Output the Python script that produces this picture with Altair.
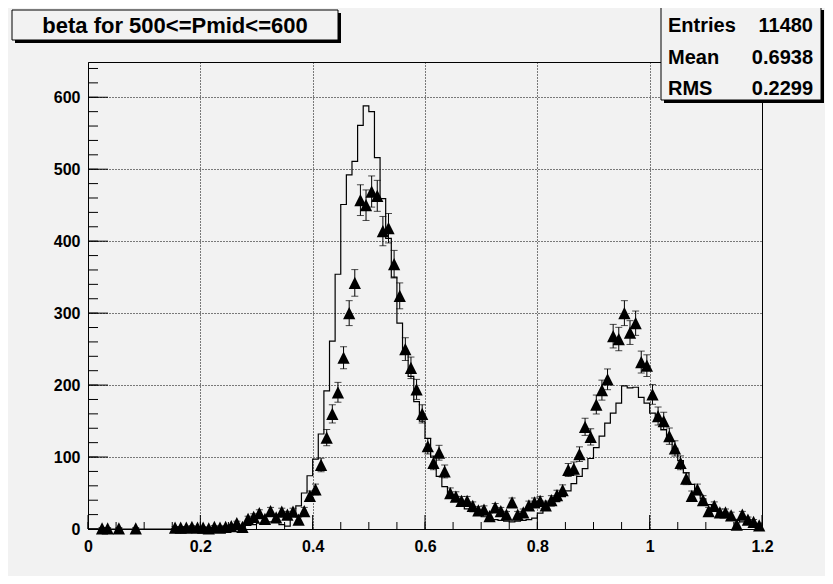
import altair as alt
import pandas as pd

# ---------------- data ----------------
x_min, x_max = 0.0, 1.2
y_max = 649
bin_width = 0.01

# histogram (step line), one value per 0.01 bin from 0.00 to 1.19
hist_counts = [
    0, 0, 0, 0, 0, 0, 0, 0, 0, 0,
    0, 0, 0, 0, 0, 1, 1, 2, 1, 2,
    2, 1, 2, 2, 3, 3, 4, 3, 5, 6,
    8, 9, 10, 10, 6, 4, 22, 32, 50, 74,
    97, 132, 192, 261, 354, 451, 492, 511, 561, 588,
    580, 516, 459, 404, 350, 286, 245, 212, 177, 150,
    126, 100, 73, 59, 48, 40, 34, 28, 24, 20,
    17, 15, 13, 12, 11, 10, 11, 12, 13, 15,
    22, 26, 32, 38, 45, 53, 63, 73, 84, 98,
    113, 129, 147, 161, 175, 199, 196, 197, 183, 175,
    161, 152, 138, 125, 112, 95, 78, 62, 50, 42,
    34, 28, 22, 18, 15, 12, 10, 8, 6, 4,
]

# data points (triangles with error bars), same binning; 0 = not drawn
data_counts = [
    0, 0, 1, 1, 0, 1, 0, 0, 1, 0,
    0, 0, 0, 0, 0, 2, 2, 2, 3, 2,
    2, 1, 3, 2, 3, 4, 8, 3, 14, 17,
    22, 14, 25, 16, 24, 20, 24, 13, 25, 46,
    55, 89, 127, 160, 190, 238, 300, 342, 457, 450,
    469, 463, 414, 418, 368, 324, 250, 224, 194, 160,
    115, 92, 106, 80, 50, 45, 39, 39, 32, 26,
    27, 18, 30, 25, 20, 37, 20, 23, 33, 37,
    39, 33, 40, 47, 54, 82, 84, 104, 142, 128,
    173, 193, 208, 268, 264, 300, 273, 286, 232, 227,
    187, 157, 150, 129, 112, 92, 70, 46, 55, 40,
    25, 32, 23, 23, 19, 6, 20, 13, 10, 5,
]

x_label_values = [0, 0.2, 0.4, 0.6, 0.8, 1.0, 1.2]
y_label_values = [0, 100, 200, 300, 400, 500, 600]

title_text = "beta for 500<=Pmid<=600"
stat_names = ["Entries", "Mean", "RMS"]
stat_values = ["11480", "0.6938", "0.2299"]

# ---------------- tables ----------------
n_bins = len(hist_counts)
hist_df = pd.DataFrame({
    "edge": [round(i * bin_width, 4) for i in range(n_bins)] + [x_max],
    "count": hist_counts + [hist_counts[-1]],
})
pts_df = pd.DataFrame({
    "x": [round((i + 0.5) * bin_width, 4) for i in range(n_bins)],
    "n": data_counts,
})
pts_df = pts_df[pts_df["n"] > 0]

# ---------------- layout ----------------
W, H = 674, 467
BG = "#f2f2f2"
FONT = "Liberation Sans"

xs = alt.Scale(domain=[x_min, x_max], nice=False, zero=False)
ys = alt.Scale(domain=[0, y_max], nice=False)

hist = alt.Chart(hist_df).mark_line(
    interpolate="step-after", color="black", strokeWidth=1.2
).encode(
    x=alt.X("edge:Q", scale=xs, title=None,
            axis=alt.Axis(values=x_label_values, format="~g", title=None,
                          labelPadding=9, labelFlush=False)),
    y=alt.Y("count:Q", scale=ys, title=None,
            axis=alt.Axis(values=y_label_values, title=None, labelPadding=8,
                          labelFlush=False)),
)

err_base = alt.Chart(pts_df).transform_calculate(
    lo="datum.n - sqrt(datum.n)", hi="datum.n + sqrt(datum.n)"
)
err = err_base.mark_rule(color="black", strokeWidth=1).encode(
    x=alt.X("x:Q", title=None), y=alt.Y("lo:Q", title=None), y2="hi:Q")
cap_lo = err_base.mark_tick(orient="horizontal", size=7, thickness=1, color="black").encode(
    x=alt.X("x:Q", title=None), y=alt.Y("lo:Q", title=None))
cap_hi = err_base.mark_tick(orient="horizontal", size=7, thickness=1, color="black").encode(
    x=alt.X("x:Q", title=None), y=alt.Y("hi:Q", title=None))

tri = alt.Chart(pts_df).mark_point(
    shape="M0,-1L1,1L-1,1Z", filled=True, fill="black", opacity=1,
    size=150, strokeWidth=0
).encode(x=alt.X("x:Q", title=None), y=alt.Y("n:Q", title=None))

# inward ticks (ROOT style)
xminor = alt.Chart(alt.sequence(0, 1.2001, 0.05)).mark_rule(color="black").encode(
    x=alt.X("data:Q", title=None), y=alt.value(H), y2=alt.value(H - 7))
xmajor = alt.Chart(alt.sequence(0, 1.2001, 0.2)).mark_rule(color="black").encode(
    x=alt.X("data:Q", title=None), y=alt.value(H), y2=alt.value(H - 14))
yminor = alt.Chart(alt.sequence(0, 641, 20)).mark_rule(color="black").encode(
    y=alt.Y("data:Q", title=None), x=alt.value(0), x2=alt.value(10))
ymajor = alt.Chart(alt.sequence(0, 601, 100)).mark_rule(color="black").encode(
    y=alt.Y("data:Q", title=None), x=alt.value(0), x2=alt.value(20))


def rect(x1, y1, x2, y2, fill, stroke=None):
    kw = dict(fill=fill)
    if stroke:
        kw.update(stroke=stroke, strokeWidth=1)
    return alt.Chart(alt.Data(values=[{}])).mark_rect(**kw).encode(
        x=alt.value(x1), x2=alt.value(x2), y=alt.value(y1), y2=alt.value(y2))


def label(txt, x, y, align, size):
    return alt.Chart(alt.Data(values=[{}])).mark_text(
        align=align, baseline="alphabetic", font=FONT, fontSize=size,
        fontWeight="bold", color="black"
    ).encode(x=alt.value(x), y=alt.value(y), text=alt.value(txt))


# title box
t_x1, t_y1, t_x2, t_y2 = -76, -52, 250, -22
title_layers = [
    rect(t_x1 + 3, t_y1 + 3, t_x2 + 3, t_y2 + 3, "black"),
    rect(t_x1, t_y1, t_x2, t_y2, BG, "black"),
    alt.Chart(alt.Data(values=[{}])).mark_text(
        align="center", baseline="middle", font=FONT, fontSize=22,
        fontWeight="bold", color="black"
    ).encode(x=alt.value((t_x1 + t_x2) / 2), y=alt.value((t_y1 + t_y2) / 2 + 1),
             text=alt.value(title_text)),
]

# stats box
s_x1, s_y1, s_x2, s_y2 = 573, -55, 733, 38
stat_layers = [
    rect(s_x1 + 3, s_y1 + 3, s_x2 + 3, s_y2 + 3, "black"),
    rect(s_x1, s_y1, s_x2, s_y2, BG, "black"),
]
for k, (nm, val) in enumerate(zip(stat_names, stat_values)):
    yb = -30 + 31.5 * k
    stat_layers.append(label(nm, s_x1 + 7, yb, "left", 20))
    stat_layers.append(label(val, s_x2 - 8, yb, "right", 20))

chart = alt.layer(
    hist, err, cap_lo, cap_hi, tri, xminor, xmajor, yminor, ymajor,
    *title_layers, *stat_layers
).properties(
    width=W, height=H,
    autosize=alt.AutoSizeParams(type="none"),
    padding={"left": 80, "top": 54, "right": 63, "bottom": 47},
    background=BG,
).configure_view(
    stroke="black", strokeWidth=1
).configure_axis(
    domain=False, ticks=False, grid=True, gridColor="black", gridDash=[1, 2],
    gridOpacity=1, gridWidth=1, labelFont=FONT, labelFontSize=16,
    labelFontWeight="bold", labelColor="black",
)

chart.save("out.html", embed_options={"renderer": "svg", "actions": False})
